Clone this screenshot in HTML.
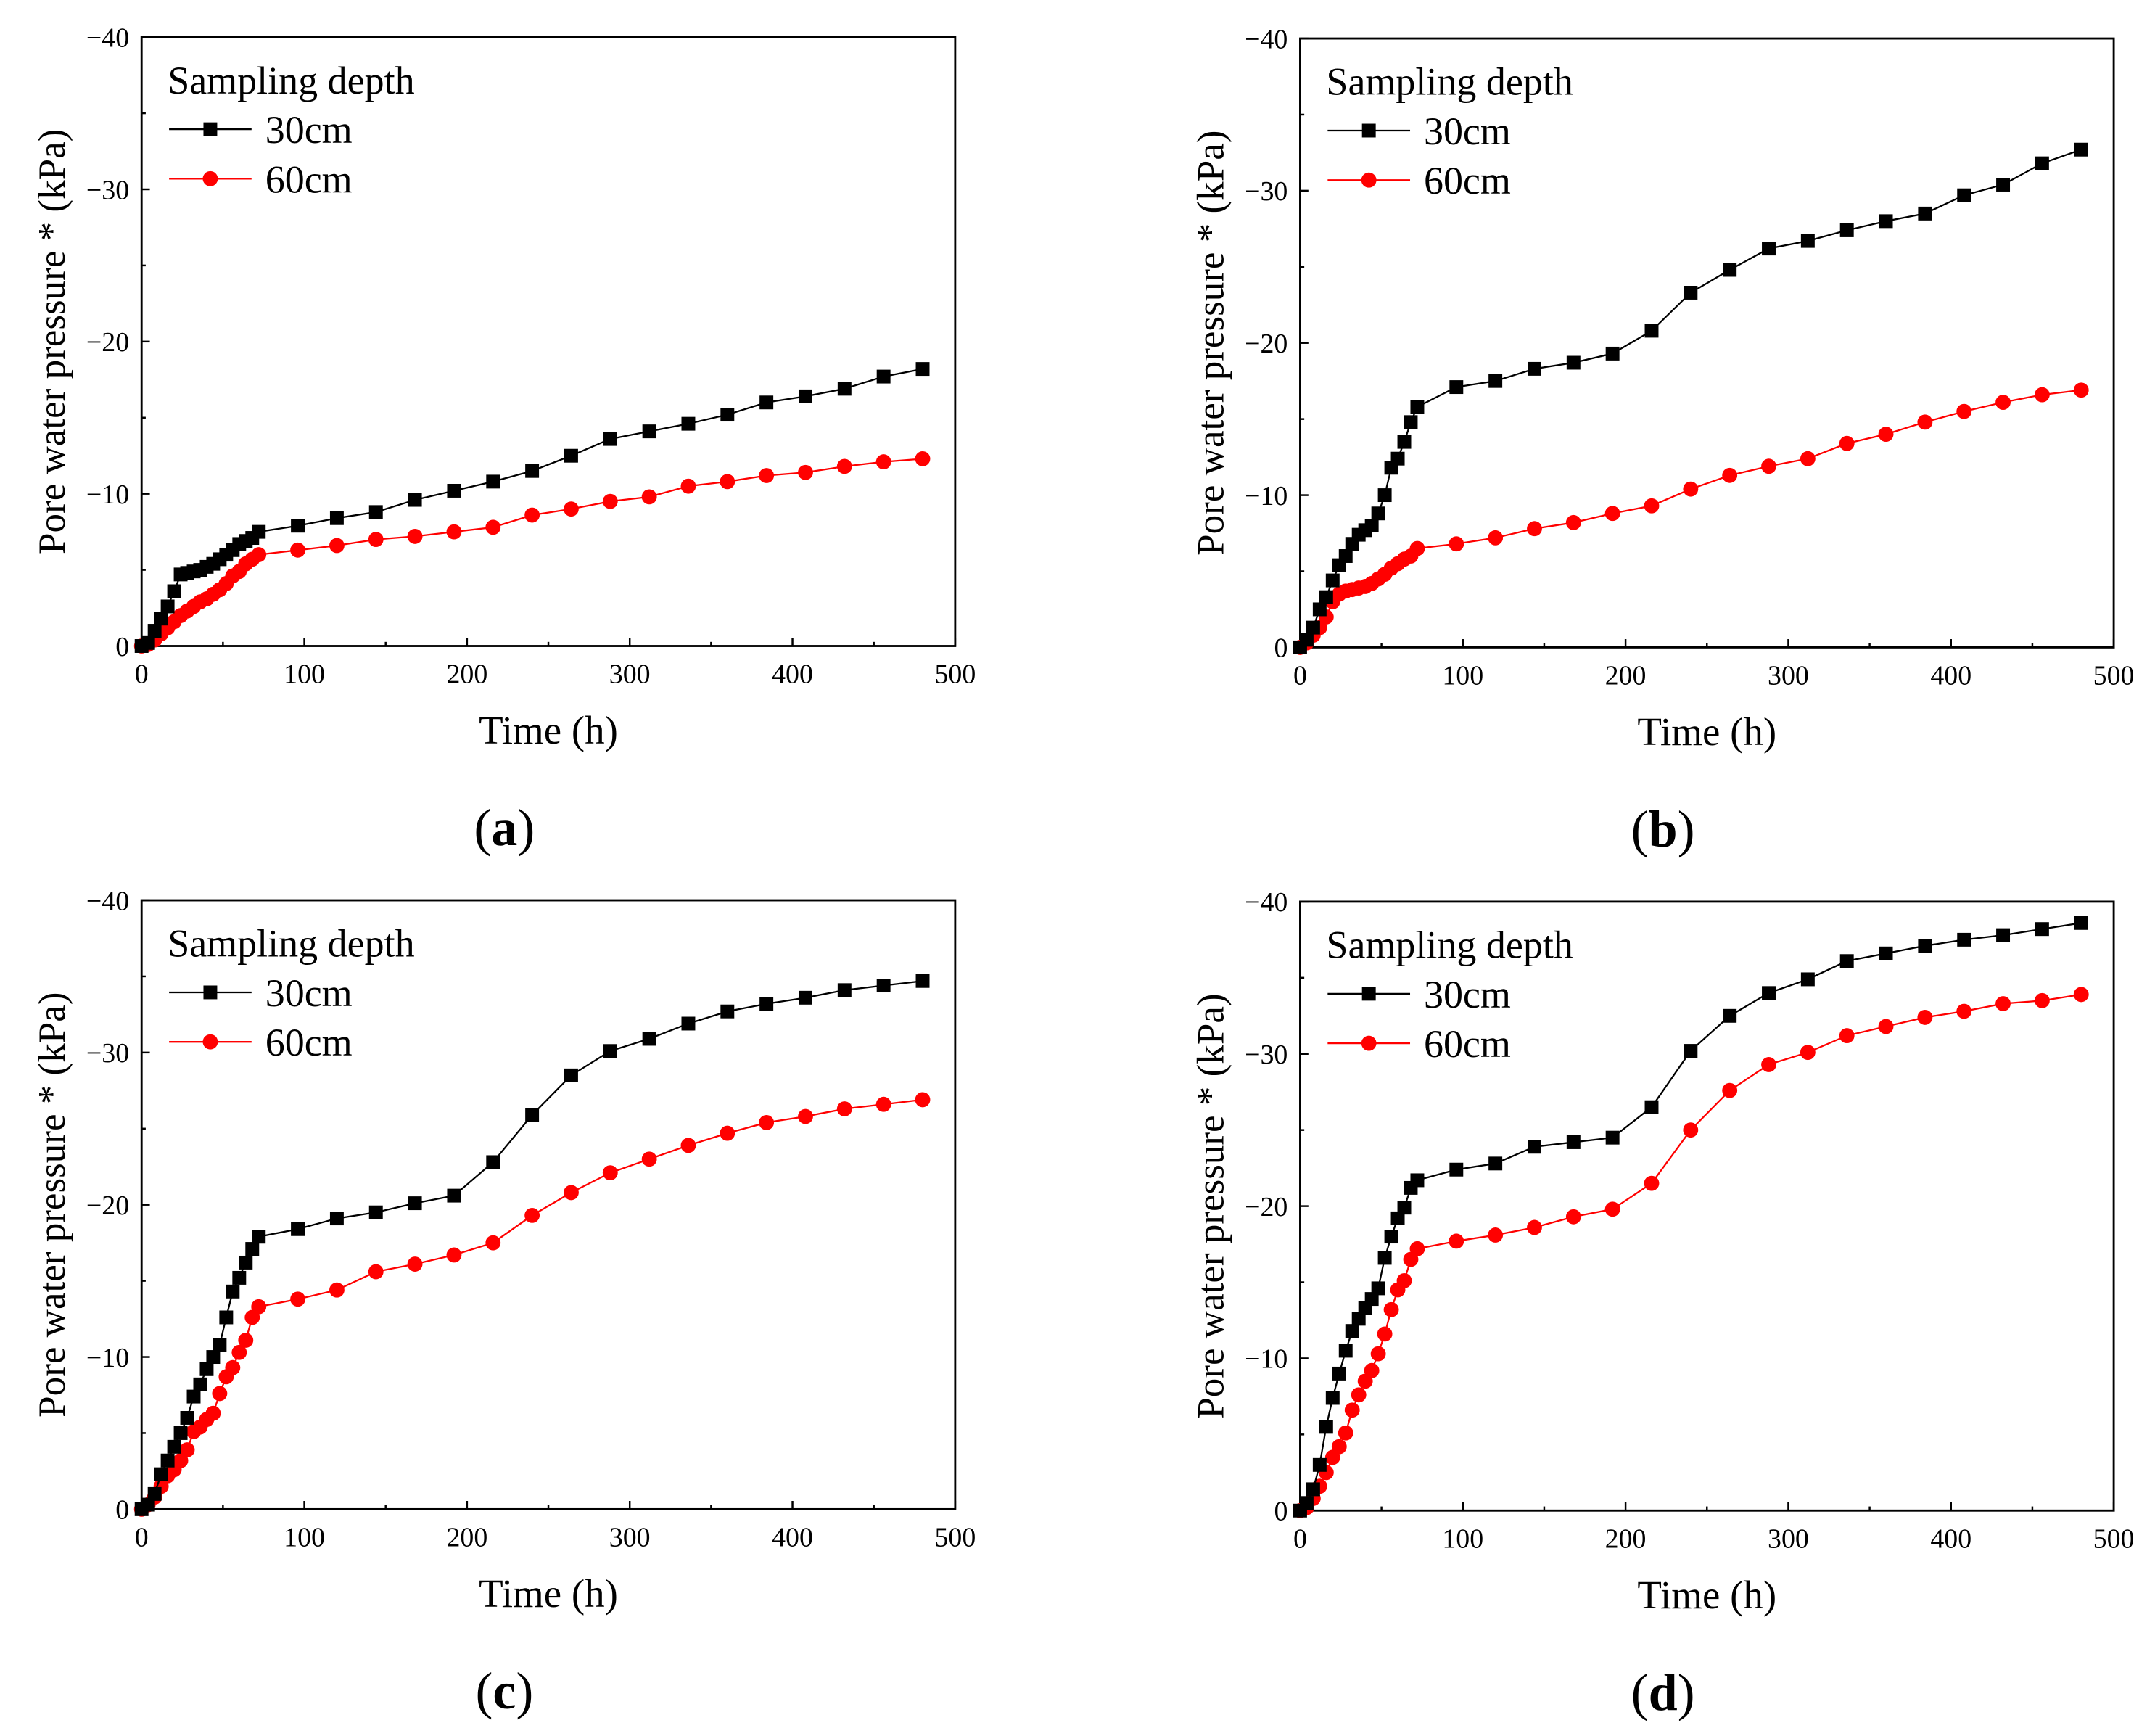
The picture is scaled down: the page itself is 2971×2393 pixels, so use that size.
<!DOCTYPE html>
<html><head><meta charset="utf-8"><style>
html,body{margin:0;padding:0;background:#fff}
svg{display:block}
text{font-family:"Liberation Serif",serif;fill:#000}
</style></head><body>
<svg id="fig" width="2971" height="2393" viewBox="0 0 1568 1263" xmlns="http://www.w3.org/2000/svg"></svg>
<script>
const times=[0,4,8,12,16,20,24,28,32,36,40,44,48,52,56,60,64,68,72,96,120,144,168,192,216,240,264,288,312,336,360,384,408,432,456,480];
const aDepth30=[0,0.2,1.0,1.8,2.6,3.6,4.7,4.8,4.9,5.0,5.2,5.4,5.7,6.0,6.3,6.7,6.9,7.1,7.5,7.9,8.4,8.8,9.6,10.2,10.8,11.5,12.5,13.6,14.1,14.6,15.2,16.0,16.4,16.9,17.7,18.2];
const aDepth60=[0,0.1,0.4,0.8,1.2,1.6,2.0,2.3,2.6,2.9,3.1,3.4,3.7,4.1,4.6,4.9,5.4,5.7,6.0,6.3,6.6,7.0,7.2,7.5,7.8,8.6,9.0,9.5,9.8,10.5,10.8,11.2,11.4,11.8,12.1,12.3];
const bDepth30=[0,0.5,1.3,2.5,3.3,4.4,5.4,6.0,6.8,7.4,7.7,8.0,8.8,10.0,11.8,12.4,13.5,14.8,15.8,17.1,17.5,18.3,18.7,19.3,20.8,23.3,24.8,26.2,26.7,27.4,28.0,28.5,29.7,30.4,31.8,32.7];
const bDepth60=[0,0.3,0.8,1.3,2.0,3.0,3.5,3.7,3.8,3.9,4.0,4.2,4.5,4.8,5.2,5.5,5.8,6.0,6.5,6.8,7.2,7.8,8.2,8.8,9.3,10.4,11.3,11.9,12.4,13.4,14.0,14.8,15.5,16.1,16.6,16.9];
const cDepth30=[0,0.3,1.0,2.3,3.2,4.1,5.0,6.0,7.4,8.2,9.2,10.0,10.8,12.6,14.3,15.2,16.2,17.1,17.9,18.4,19.1,19.5,20.1,20.6,22.8,25.9,28.5,30.1,30.9,31.9,32.7,33.2,33.6,34.1,34.4,34.7];
const cDepth60=[0,0.3,0.8,1.5,2.2,2.6,3.2,3.9,5.1,5.4,5.9,6.3,7.6,8.7,9.3,10.3,11.1,12.6,13.3,13.8,14.4,15.6,16.1,16.7,17.5,19.3,20.8,22.1,23.0,23.9,24.7,25.4,25.8,26.3,26.6,26.9];
const dDepth30=[0,0.5,1.4,3.0,5.5,7.4,9.0,10.5,11.8,12.6,13.3,13.9,14.6,16.6,18.0,19.2,19.9,21.2,21.7,22.4,22.8,23.9,24.2,24.5,26.5,30.2,32.5,34.0,34.9,36.1,36.6,37.1,37.5,37.8,38.2,38.6];
const dDepth60=[0,0.2,0.8,1.6,2.5,3.5,4.2,5.1,6.6,7.6,8.5,9.2,10.3,11.6,13.2,14.5,15.1,16.5,17.2,17.7,18.1,18.6,19.3,19.8,21.5,25.0,27.6,29.3,30.1,31.2,31.8,32.4,32.8,33.3,33.5,33.9];
const xTicks=[0,100,200,300,400,500];
const yTicks=[0,-10,-20,-30,-40];
const panelLabels=['a','b','c','d'];

const NS='http://www.w3.org/2000/svg';
const svg=document.getElementById('fig');
function mk(tag,attrs,parent){const e=document.createElementNS(NS,tag);for(const k in attrs)e.setAttribute(k,attrs[k]);(parent||svg).appendChild(e);return e;}

const panels=[
 {ox:0,oy:0,s30:aDepth30,s60:aDepth60},
 {ox:843,oy:1,s30:bDepth30,s60:bDepth60},
 {ox:0,oy:628,s30:cDepth30,s60:cDepth60},
 {ox:843,oy:629,s30:dDepth30,s60:dDepth60}
];
panels.forEach((p,i)=>{
  const g=mk('g',{});
  
  
  const L=103+p.ox,R=695+p.ox,T=27+p.oy,B=470+p.oy;
  const xs=v=>L+(R-L)*v/500;
  const yv=v=>B-(B-T)*v/40;
  const fr=mk('rect',{x:L,y:T,width:R-L,height:B-T,fill:'none',stroke:'#000','stroke-width':1.5},g);
  
  
  for(let v=0;v<=500;v+=50){
    const major=v%100===0;const x=xs(v);
    mk('line',{x1:x,x2:x,y1:B,y2:B-(major?6:3),stroke:'#000','stroke-width':1.3},g);
  }
  xTicks.forEach(v=>{
    const t=mk('text',{x:xs(v),y:B+27,'font-size':20,'text-anchor':'middle'},g);
    t.textContent=v;
    
    
  });
  for(let v=0;v<=40;v+=5){
    const major=v%10===0;const y=yv(v);
    mk('line',{x1:L,x2:L+(major?6:3),y1:y,y2:y,stroke:'#000','stroke-width':1.3},g);
  }
  yTicks.forEach(v=>{
    const t=mk('text',{x:L-9,y:yv(-v)+7,'font-size':20,'text-anchor':'end'},g);
    t.textContent=v===0?'0':'\u2212'+(-v);
    
    
  });
  const xt=mk('text',{x:(L+R)/2,y:B+71,'font-size':29,'text-anchor':'middle'},g);
  xt.textContent='Time (h)';
  
  
  const yt=mk('text',{x:0,y:0,'font-size':28,'text-anchor':'middle',transform:`translate(${L-56},${(T+B)/2}) rotate(-90)`},g);
  yt.textContent='Pore water pressure * (kPa)';
  
  
  [[p.s60,'#ff0000','circle','60cm'],[p.s30,'#000000','square','30cm']].forEach(([arr,col,shape,name])=>{
    const pts=times.map((t,j)=>xs(t)+','+yv(arr[j])).join(' ');
    const pl=mk('polyline',{points:pts,fill:'none',stroke:col,'stroke-width':1.2},g);
    
    
    times.forEach((t,j)=>{
      let m;
      if(shape==='square') m=mk('rect',{x:xs(t)-5,y:yv(arr[j])-5,width:10,height:10,fill:col},g);
      else m=mk('circle',{cx:xs(t),cy:yv(arr[j]),r:5.5,fill:col},g);
      
      
    });
  });
  const lg=mk('g',{},g);
  
  
  const lt=mk('text',{x:L+19,y:T+41,'font-size':28.5},lg);lt.textContent='Sampling depth';
  
  
  [['30cm','#000','square',67],['60cm','#ff0000','circle',103]].forEach(([n,c,s,dy])=>{
    const y=T+dy;
    mk('line',{x1:L+20,x2:L+80,y1:y,y2:y,stroke:c,'stroke-width':1.2},lg);
    if(s==='square') mk('rect',{x:L+45,y:y-5,width:10,height:10,fill:c},lg);
    else mk('circle',{cx:L+50,cy:y,r:5.5,fill:c},lg);
    const tt=mk('text',{x:L+90,y:y+10,'font-size':28.5},lg);tt.textContent=n;
    
    
  });
  const pl=mk('text',{x:(L+R)/2-32,y:B+145,'font-size':38,'text-anchor':'middle'},g);
  pl.innerHTML='(<tspan font-weight="bold">'+panelLabels[i]+'</tspan>)';
  
  
});
</script>
</body></html>
